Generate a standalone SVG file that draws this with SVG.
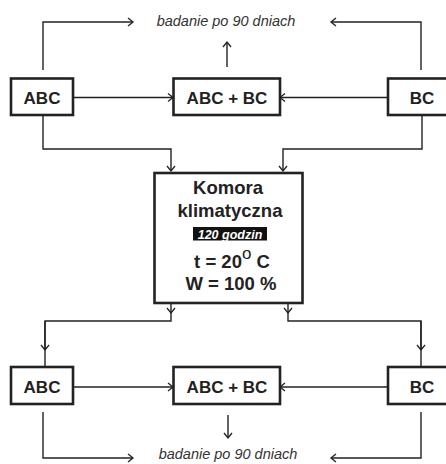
<svg xmlns="http://www.w3.org/2000/svg" width="446" height="464" viewBox="0 0 446 464">
<defs>
<marker id="arr" markerUnits="userSpaceOnUse" markerWidth="12" markerHeight="12" refX="0" refY="0" viewBox="-6 -6 12 12" orient="auto" overflow="visible">
<path d="M-5,-4 L0,0 L-5,4" fill="none" stroke="#222" stroke-width="1.3"/>
</marker>
</defs>
<style>
.box{fill:#fff;stroke:#222;stroke-width:2.6}
.lbl{font-family:"Liberation Sans",Arial,sans-serif;font-weight:bold;font-size:17px;fill:#222;text-anchor:middle}
.big{font-family:"Liberation Sans",Arial,sans-serif;font-weight:bold;font-size:18.5px;fill:#222;text-anchor:middle}
.note{font-family:"Liberation Sans",Arial,sans-serif;font-style:italic;font-size:14.5px;fill:#333;text-anchor:middle}
.c{fill:none;stroke:#222;stroke-width:1.4}
.a{fill:none;stroke:#222;stroke-width:1.4;marker-end:url(#arr)}
</style>
<rect x="0" y="0" width="446" height="464" fill="#fff"/>
<g id="connectors">
<path class="a" d="M43,70 L43,22 L133,22"/>
<path class="a" d="M421,70 L421,22 L331,22"/>
<path class="a" d="M227,67 L227,42"/>
<path class="a" d="M73,97.5 L173,97.5"/>
<path class="a" d="M389,97.5 L280,97.5"/>
<path class="a" d="M43,115 L43,149 L171,149 L171,171"/>
<path class="a" d="M422,115 L422,149 L283,149 L283,171"/>
<path class="a" d="M171,303 L171,313"/>
<path class="c" d="M171,313 L171,321 L45,321 L45,350"/>
<path class="a" d="M45,321 L45,350"/>
<path class="c" d="M45,350 L45,367"/>
<path class="a" d="M288,303 L288,313"/>
<path class="c" d="M288,313 L288,321 L421,321 L421,350"/>
<path class="a" d="M421,321 L421,350"/>
<path class="c" d="M421,350 L421,367"/>
<path class="a" d="M73,387 L173,387"/>
<path class="a" d="M389,387 L280,387"/>
<path class="a" d="M228,415 L228,438"/>
<path class="a" d="M43,412 L43,458 L133,458"/>
<path class="a" d="M421,412 L421,458 L331,458"/>
</g>
<g id="note-top"><text class="note" x="226" y="26">badanie po 90 dniach</text></g>
<g id="abc-top"><rect class="box" x="11" y="78.5" width="62" height="36.5"/><text class="lbl" x="42" y="103.5">ABC</text></g>
<g id="abcbc-top"><rect class="box" x="173.5" y="78.5" width="106.5" height="36.5"/><text class="lbl" x="227" y="103.5">ABC + BC</text></g>
<g id="bc-top"><rect class="box" x="388" y="78.5" width="62" height="36.5"/><text class="lbl" x="422" y="103.5">BC</text></g>
<g id="komora">
<rect class="box" x="154.5" y="173" width="148" height="130" stroke-width="3"/>
<text class="big" x="228" y="194">Komora</text>
<text class="big" x="230" y="217">klimatyczna</text>
<rect x="193" y="227" width="74" height="13.5" fill="#111"/>
<text x="230" y="238.5" font-family="Liberation Sans,Arial,sans-serif" font-weight="bold" font-style="italic" font-size="12.5" fill="#fff" text-anchor="middle">120 godzin</text>
<text class="big" x="232" y="268">t = 20<tspan dy="-9" font-weight="normal" font-size="17">o</tspan><tspan dy="9"> C</tspan></text>
<text class="big" x="231" y="290">W = 100 %</text>
</g>
<g id="abc-bot"><rect class="box" x="11" y="367" width="62" height="37"/><text class="lbl" x="42" y="392.5">ABC</text></g>
<g id="abcbc-bot"><rect class="box" x="173.5" y="367" width="106.5" height="37"/><text class="lbl" x="227" y="392.5">ABC + BC</text></g>
<g id="bc-bot"><rect class="box" x="388" y="367" width="62" height="37"/><text class="lbl" x="422" y="392.5">BC</text></g>
<g id="note-bot"><text class="note" x="228" y="459">badanie po 90 dniach</text></g>
</svg>
